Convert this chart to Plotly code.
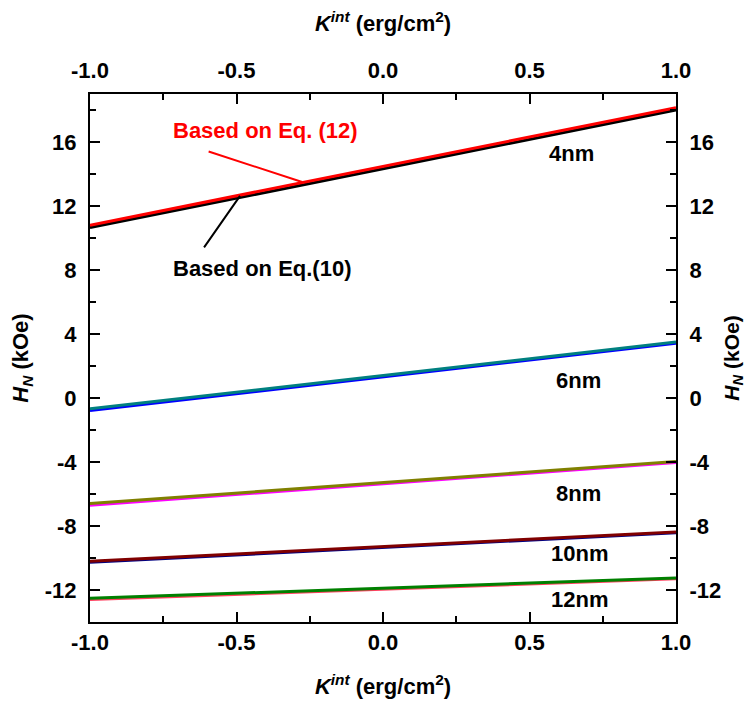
import plotly.graph_objects as go

# Data
k_int = [-1.0, 1.0]
thickness_labels = ["4nm", "6nm", "8nm", "10nm", "12nm"]
eq10_4nm = [10.65, 18.0]
eq12_4nm = [10.8, 18.15]
eq10_6nm = [-0.78, 3.42]
eq12_6nm = [-0.68, 3.5]
eq10_8nm = [-6.7, -4.03]
eq12_8nm = [-6.6, -3.97]
eq10_10nm = [-10.27, -8.42]
eq12_10nm = [-10.2, -8.37]
eq10_12nm = [-12.6, -11.3]
eq12_12nm = [-12.52, -11.25]

x_ticks = [-1.0, -0.5, 0.0, 0.5, 1.0]
y_ticks = [-12, -8, -4, 0, 4, 8, 12, 16]

FONT = "Liberation Sans, Arial"
FS = 22

series = [
    (eq10_4nm, "#000000"), (eq12_4nm, "#FF0000"),
    (eq10_6nm, "#0000FF"), (eq12_6nm, "#008080"),
    (eq10_8nm, "#FF00FF"), (eq12_8nm, "#808000"),
    (eq10_10nm, "#000080"), (eq12_10nm, "#800000"),
    (eq10_12nm, "#FF4060"), (eq12_12nm, "#008000"),
]

fig = go.Figure()
for vals, col in series:
    fig.add_trace(go.Scatter(x=k_int, y=vals, mode="lines",
                             line=dict(color=col, width=3), showlegend=False,
                             xaxis="x", yaxis="y"))
# invisible trace to activate secondary axes
fig.add_trace(go.Scatter(x=k_int, y=[None, None], xaxis="x2", yaxis="y2",
                         showlegend=False, hoverinfo="skip"))

tickfont = dict(family=FONT, size=FS, color="black", weight="bold")
titlefont = dict(family=FONT, size=FS, color="black", weight="bold")
rtitlefont = dict(family=FONT, size=21, color="black", weight="bold")
xtitle = "<i>K</i><sup><i>int</i></sup> (erg/cm<sup>2</sup>)"
ytitle = "<i>H<sub>N</sub></i> (kOe)"

xcommon = dict(range=[-1, 1], tickvals=x_ticks, ticktext=[f"{v:.1f}" for v in x_ticks],
               ticks="inside", ticklen=10, tickwidth=2, tickcolor="black",
               minor=dict(ticks="inside", ticklen=6, tickwidth=2, tickcolor="black", dtick=0.25, tick0=0),
               showline=True, linecolor="black", linewidth=2, mirror=False, automargin=False,
               showgrid=False, zeroline=False, tickfont=tickfont)
ycommon = dict(range=[-14, 19], tickvals=y_ticks, ticktext=[str(v) for v in y_ticks],
               ticks="inside", ticklen=10, tickwidth=2, tickcolor="black",
               minor=dict(ticks="inside", ticklen=6, tickwidth=2, tickcolor="black", dtick=2, tick0=0),
               showline=True, linecolor="black", linewidth=2, mirror=False, automargin=False,
               showgrid=False, zeroline=False, tickfont=tickfont, ticklabelstandoff=7)

fig.update_layout(
    width=745, height=703,
    margin=dict(l=82, r=77, t=86, b=89),
    plot_bgcolor="white", paper_bgcolor="white",
    xaxis=dict(**xcommon, side="bottom", ticklabelstandoff=0,
               title=dict(text=xtitle, font=titlefont, standoff=24)),
    xaxis2=dict(**xcommon, side="top", overlaying="x", anchor="y", ticklabelstandoff=5,
                title=dict(text=xtitle, font=titlefont, standoff=22)),
    yaxis=dict(**ycommon, side="left", title=dict(text=ytitle, font=titlefont, standoff=14)),
    yaxis2=dict(**ycommon, side="right", overlaying="y", anchor="x",
                title=dict(text=ytitle, font=rtitlefont, standoff=4)),
)

label_pos = [(0.645, 15.3), (0.666, 1.12), (0.666, -5.94), (0.672, -9.69), (0.672, -12.6)]
for lab, (lx, ly) in zip(thickness_labels, label_pos):
    fig.add_annotation(x=lx, y=ly, text=lab, showarrow=False,
                       font=dict(family=FONT, size=FS, color="black", weight="bold"))

fig.add_annotation(x=-0.276, y=13.5, ax=-95, ay=-31, showarrow=True, arrowhead=0,
                   arrowwidth=2, arrowcolor="#FF0000", text="")
fig.add_annotation(x=-0.4, y=16.69, text="Based on Eq. (12)", showarrow=False,
                   font=dict(family=FONT, size=FS, color="#FF0000", weight="bold"))
fig.add_annotation(x=-0.488, y=12.63, ax=-37, ay=53, showarrow=True, arrowhead=0,
                   arrowwidth=2, arrowcolor="black", text="")
fig.add_annotation(x=-0.413, y=8.125, text="Based on Eq.(10)", showarrow=False,
                   font=dict(family=FONT, size=FS, color="black", weight="bold"))

fig.write_html("out.html")
